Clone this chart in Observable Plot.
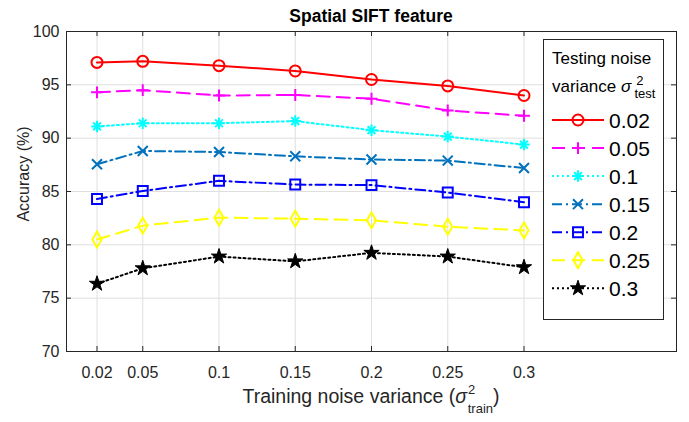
<!DOCTYPE html>
<html><head><meta charset="utf-8">
<script src="https://cdn.jsdelivr.net/npm/d3@7"></script>
<script src="https://cdn.jsdelivr.net/npm/@observablehq/plot@0.6"></script>
<style>body{margin:0;background:#fff}</style>
</head><body><div id="chart"></div>
<script>
// ---- data ----
const trainVariance = [0.02, 0.05, 0.1, 0.15, 0.2, 0.25, 0.3];
const xTickLabels = ["0.02", "0.05", "0.1", "0.15", "0.2", "0.25", "0.3"];
const yTicks = [70, 75, 80, 85, 90, 95, 100];
const testNames = ["0.02", "0.05", "0.1", "0.15", "0.2", "0.25", "0.3"];
const acc002 = [97.1, 97.2, 96.8, 96.3, 95.5, 94.9, 94.0];
const acc005 = [94.3, 94.5, 94.0, 94.05, 93.7, 92.6, 92.1];
const acc01  = [91.1, 91.4, 91.4, 91.6, 90.75, 90.15, 89.4];
const acc015 = [87.55, 88.8, 88.7, 88.3, 88.0, 87.9, 87.2];
const acc02  = [84.3, 85.05, 86.0, 85.65, 85.6, 84.9, 84.0];
const acc025 = [80.5, 81.8, 82.55, 82.45, 82.3, 81.7, 81.35];
const acc03  = [76.35, 77.8, 78.9, 78.45, 79.25, 78.9, 77.9];
const seriesValues = [acc002, acc005, acc01, acc015, acc02, acc025, acc03];
const seriesColors = ["#FF0000", "#FF00FF", "#00FFFF", "#0072BD", "#0000FF", "#FFFF00", "#000000"];
const seriesDash = [null, "13,7", "2,3", "10,4,2,4", "10,4,2,4", "13,7", "2,3"];
const seriesSymbols = [["circle"], ["plus"], ["plus", "times"], ["times"], ["square"], ["diamond"], ["star"]];
const seriesSizes = [[5.5], [3.9], [3.8, 3.6], [4.6], [5.6], [4.8], [4.8]];
const seriesFilled = [false, false, false, false, false, false, true];

// ---- chart ----
const axisColor = "#262626";
const gridColor = "#dfdfdf";
const font = "'Liberation Sans', Arial, Helvetica, sans-serif";

const marks = [
  Plot.gridX(trainVariance, {stroke: gridColor, strokeOpacity: 1}),
  Plot.gridY(yTicks, {stroke: gridColor, strokeOpacity: 1})
];
seriesValues.forEach((vals, s) => {
  const data = trainVariance.map((x, i) => ({x, y: vals[i]}));
  marks.push(Plot.line(data, {x: "x", y: "y", stroke: seriesColors[s], strokeWidth: 2,
    strokeDasharray: seriesDash[s] || undefined}));
  seriesSymbols[s].forEach((sym, k) => {
    marks.push(Plot.dot(data, {x: "x", y: "y", symbol: sym, r: seriesSizes[s][k],
      stroke: seriesColors[s], strokeWidth: seriesFilled[s] ? 1 : 2,
      fill: seriesFilled[s] ? seriesColors[s] : "none"}));
  });
});
marks.push(
  Plot.ruleX(trainVariance, {x: d => d, y1: 70, y2: 70, insetBottom: 5, stroke: axisColor}),
  Plot.ruleX(trainVariance, {x: d => d, y1: 100, y2: 100, insetTop: 5, stroke: axisColor}),
  Plot.ruleY(yTicks, {y: d => d, x1: 0, x2: 0, insetLeft: 5, stroke: axisColor}),
  Plot.ruleY(yTicks, {y: d => d, x1: 0.4, x2: 0.4, insetRight: 5, stroke: axisColor}),
  Plot.axisX(trainVariance, {tickSize: 0, tickPadding: 15, fontSize: 16, label: null,
    fill: axisColor, tickFormat: d => xTickLabels[trainVariance.indexOf(d)]}),
  Plot.axisY(yTicks, {tickSize: 0, tickPadding: 7, fontSize: 16, label: null, fill: axisColor}),
  Plot.frame({stroke: axisColor, strokeWidth: 1})
);

const svg = Plot.plot({
  width: 689, height: 422,
  marginLeft: 66, marginRight: 13, marginTop: 31, marginBottom: 71,
  x: {domain: [0, 0.4]},
  y: {domain: [70, 100]},
  style: {fontFamily: font, background: "white", color: axisColor},
  marks
});
document.getElementById("chart").appendChild(svg);

// ---- title, axis labels, legend ----
const root = d3.select(svg);
root.append("text").attr("x", 371).attr("y", 22).attr("text-anchor", "middle")
  .attr("font-family", font).attr("font-size", 17.5).attr("font-weight", "bold")
  .attr("fill", "#000").text("Spatial SIFT feature");

root.append("text").attr("transform", "translate(29,174) rotate(-90)")
  .attr("text-anchor", "middle").attr("font-family", font).attr("font-size", 16)
  .attr("fill", axisColor).text("Accuracy (%)");

const xl = root.append("text").attr("x", 371).attr("y", 403).attr("text-anchor", "middle")
  .attr("font-family", font).attr("font-size", 19.5).attr("fill", axisColor);
xl.append("tspan").text("Training noise variance (");
xl.append("tspan").attr("font-style", "italic").text("σ");
xl.append("tspan").attr("font-size", 13).attr("dy", -9.5).attr("dx", 1).text("2");
xl.append("tspan").attr("font-size", 13).attr("dy", 19.5).attr("dx", -7.5).text("train");
xl.append("tspan").attr("dy", -10).text(")");

const lg = root.append("g").attr("text-anchor", "start");
lg.append("rect").attr("x", 543.5).attr("y", 39.5).attr("width", 120).attr("height", 280)
  .attr("fill", "white").attr("stroke", axisColor).attr("stroke-width", 1);
lg.append("text").attr("x", 552).attr("y", 64).attr("text-anchor", "start")
  .attr("font-family", font).attr("font-size", 17).attr("fill", "#000").text("Testing noise");
const lt = lg.append("text").attr("x", 552).attr("y", 92).attr("text-anchor", "start")
  .attr("font-family", font).attr("font-size", 17).attr("fill", "#000");
lt.append("tspan").text("variance ");
lt.append("tspan").attr("font-style", "italic").text("σ");
lt.append("tspan").attr("font-size", 13).attr("dy", -7).attr("dx", 5).text("2");
lt.append("tspan").attr("font-size", 13).attr("dy", 13).attr("dx", -9).text("test");

const symMap = {circle: d3.symbolCircle, plus: d3.symbolPlus, times: d3.symbolTimes,
  square: d3.symbolSquare, diamond: d3.symbolDiamond, star: d3.symbolStar};
testNames.forEach((name, s) => {
  const cy = 120 + s * 28.05;
  const g = lg.append("g");
  g.append("line").attr("x1", 552).attr("x2", 604).attr("y1", cy).attr("y2", cy)
    .attr("stroke", seriesColors[s]).attr("stroke-width", 2)
    .attr("stroke-dasharray", seriesDash[s]);
  seriesSymbols[s].forEach((sym, k) => {
    const r = seriesSizes[s][k];
    g.append("path").attr("transform", `translate(578,${cy})`)
      .attr("d", d3.symbol().type(symMap[sym]).size(r * r * Math.PI)())
      .attr("stroke", seriesColors[s]).attr("stroke-width", seriesFilled[s] ? 1 : 2)
      .attr("fill", seriesFilled[s] ? seriesColors[s] : "none");
  });
  g.append("text").attr("x", 609).attr("y", cy + 7.5).attr("text-anchor", "start")
    .attr("font-family", font).attr("font-size", 21).attr("fill", "#000").text(name);
});
</script>
</body></html>
